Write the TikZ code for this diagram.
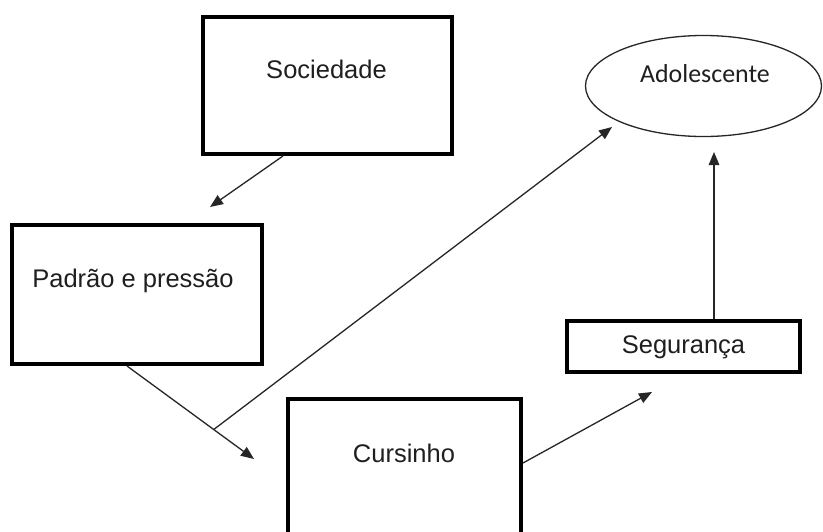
\documentclass[tikz,border=0pt]{standalone}
\usepackage{fontspec}
\setmainfont{Liberation Sans}
\newfontfamily\calibrifont{Carlito}
\usetikzlibrary{arrows.meta,shapes.geometric}

\tikzset{
  box/.style={draw=black, line width=4pt, rectangle, inner sep=0pt},
  label text/.style={anchor=base, inner sep=0pt, text=black!88,
    font=\fontsize{25.5}{30}\selectfont},
  connector/.style={draw=black!85, line width=1.3pt,
    -{Triangle[length=13pt,width=10.5pt]}},
}

\begin{document}
\begin{tikzpicture}[x=1pt, y=-1pt]
\useasboundingbox (0,0) rectangle (823,531);
\clip (0,0) rectangle (823,531);
\fill[white] (0,0) rectangle (823,531);

% boxes
\node[box, minimum width=249pt, minimum height=137pt] (soc) at (327.5,85.5) {};
\node[box, minimum width=250pt, minimum height=139pt] (pad) at (137,294.5) {};
\node[box, minimum width=233pt, minimum height=162pt] (cur) at (404.5,480) {};
\node[box, minimum width=233pt, minimum height=51pt] (seg) at (683.5,346.5) {};
\node[draw=black!85, line width=1.3pt, ellipse, inner sep=0pt,
      minimum width=236pt, minimum height=101pt] (ado) at (703.5,86) {};

% texts
\node[label text] (socT) at (326.5,78) {Sociedade};
\node[label text] (padT) at (133,287) {Padrão e pressão};
\node[label text] (curT) at (404,462) {Cursinho};
\node[label text] (segT) at (683.5,353) {Segurança};
\node[label text, font=\calibrifont\fontsize{25.9}{30}\selectfont] (adoT) at (705,82) {Adolescente};

% free arrow ends
\coordinate (tipPad) at (210,207);
\coordinate (tipCur) at (254,459);
\coordinate (tipAdoL) at (612,127);
\coordinate (tipSeg) at (652,392);
\coordinate (tipAdoB) at (714,152);

% connectors
\draw[connector] ([xshift=-44.5pt]soc.south) -- (tipPad);
\draw[connector] ([xshift=-10pt]pad.south) -- (tipCur)
  coordinate[pos=0.683] (branch);
\draw[connector] (branch) -- (tipAdoL);
\draw[connector] ([yshift=17pt]cur.east) -- (tipSeg);
\draw[connector] ([xshift=30.5pt]seg.north) -- (tipAdoB);
\end{tikzpicture}
\end{document}
